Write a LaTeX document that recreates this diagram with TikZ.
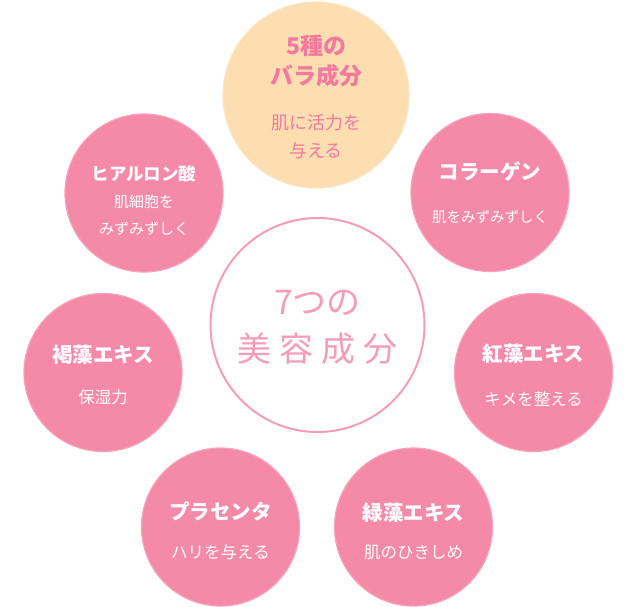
\documentclass[tikz,border=0pt]{standalone}
\usepackage{fontspec}
\setmainfont{Noto Sans CJK JP}
\usepackage{tikz}
\usetikzlibrary{shapes.geometric}
\definecolor{rosefill}{HTML}{F48AA8}
\definecolor{roseedge}{HTML}{F7A2BA}
\definecolor{peachfill}{HTML}{FCDEB0}
\definecolor{peachedge}{HTML}{FBE5C6}
\definecolor{rosetext}{HTML}{F2799F}
\definecolor{ringline}{HTML}{F59DB8}
\newcommand{\ttl}[1]{{\bfseries\fontsize{20.5}{18}\selectfont #1}}
\newcommand{\bigttl}[1]{{\bfseries\fontsize{23}{18}\selectfont #1}}
\newcommand{\hyattl}[1]{{\bfseries\fontsize{17.5}{18}\selectfont #1}}
\tikzstyle{ingredient} = [circle, minimum size=158pt, inner sep=0pt, fill=rosefill, draw=roseedge, line width=1.2pt]
\tikzstyle{rosebox} = [circle, minimum size=186pt, inner sep=0pt, fill=peachfill, draw=peachedge, line width=1.2pt]
\tikzstyle{core} = [circle, minimum size=214pt, inner sep=0pt, fill=white, draw=ringline, line width=2pt]
\tikzstyle{caption} = [inner sep=0pt, text centered, align=center, text=white, font=\fontsize{16.5}{18}\selectfont]

\begin{document}
\begin{tikzpicture}[x=1pt, y=-1pt]
    \useasboundingbox (0,0) rectangle (640,606);

    % circles
    \node (core) [core] at (317.5,325) {};
    \node (rose) [rosebox] at (316,95) {};
    \node (collagen) [ingredient] at (490,192.5) {};
    \node (hyaluron) [ingredient] at (144,193) {};
    \node (kasso) [ingredient] at (103,372.5) {};
    \node (kouso) [ingredient] at (533.5,372.5) {};
    \node (placenta) [ingredient] at (220.5,527) {};
    \node (ryokusou) [ingredient] at (413.5,527) {};

    % texts
    \node (coreText) [caption, text=ringline, font=\fontsize{34}{18}\selectfont] at ([yshift=-2pt]core) {7つの\\[16pt]美\kern8pt 容\kern8pt 成\kern8pt 分};
    \node (roseText) [caption, text=rosetext, font=\fontsize{18}{18}\selectfont] at ([yshift=-2pt]rose) {\bigttl{5種の}\\[7pt]\bigttl{バラ成分}\\[27pt]肌に活力を\\[10pt]与える};
    \node (collagenText) [caption, font=\fontsize{14.5}{18}\selectfont] at ([yshift=-0.5pt]collagen) {\ttl{コラーゲン}\\[25pt]肌をみずみずしく};
    \node (hyaluronText) [caption, font=\fontsize{15}{18}\selectfont] at ([yshift=-7pt]hyaluron) {\hyattl{ヒアルロン酸}\\[9pt]肌細胞を\\[9pt]みずみずしく};
    \node (kassoText) [caption] at ([yshift=-2.5pt]kasso) {\ttl{褐藻エキス}\\[23pt]保湿力};
    \node (kousoText) [caption] at ([yshift=-3pt]kouso) {\ttl{紅藻エキス}\\[26pt]キメを整える};
    \node (placentaText) [caption] at ([yshift=-3.5pt]placenta) {\ttl{プラセンタ}\\[21pt]ハリを与える};
    \node (ryokusouText) [caption] at ([yshift=-4.5pt]ryokusou) {\ttl{緑藻エキス}\\[20pt]肌のひきしめ};

\end{tikzpicture}
\end{document}
